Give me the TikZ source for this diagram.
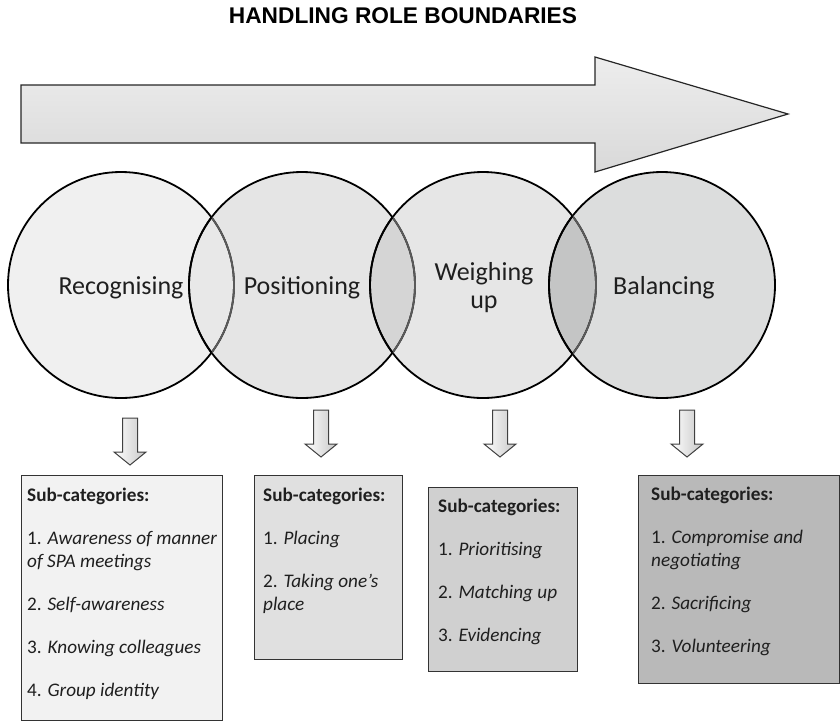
\documentclass[tikz,border=0pt]{standalone}
\usepackage{fontspec}
\setmainfont{Carlito}
\newfontfamily\headfont{Liberation Sans}
\usetikzlibrary{calc}

\definecolor{fillA}{HTML}{F0F0F0}
\definecolor{fillB}{HTML}{E5E5E5}
\definecolor{fillC}{HTML}{E6E6E6}
\definecolor{fillD}{HTML}{DCDDDD}
\definecolor{lensAB}{HTML}{E8E8E8}
\definecolor{lensBC}{HTML}{D5D5D5}
\definecolor{lensCD}{HTML}{C4C5C5}
\definecolor{boxA}{HTML}{F2F2F2}
\definecolor{boxB}{HTML}{E0E0E0}
\definecolor{boxC}{HTML}{D0D0D0}
\definecolor{boxD}{HTML}{B9B9B9}
\definecolor{inkgray}{HTML}{5A5A5A}

\begin{document}
\begin{tikzpicture}[x=1pt,y=-1pt,
  ringline/.style={line width=1.8pt,draw=black},
  stagenode/.style={circle,minimum size=226pt,inner sep=0pt,align=center,
    font=\fontsize{26}{30}\selectfont,text=black!88},
  catbox/.style={draw=black!80,line width=1.2pt,anchor=north west,inner sep=0pt},
  sublist/.style={anchor=north west,align=left,inner sep=0pt,text=black!88,
    font=\fontsize{19.2}{23}\selectfont},
  downarrow/.style={draw=black!75,line width=1pt,left color=white,right color=black!22},
  bigarrow/.style={draw=black!85,line width=1.2pt,top color=black!7,bottom color=black!15}
]
\useasboundingbox (0,0) rectangle (840,721);

% title
\node[font=\headfont\bfseries\fontsize{22.7}{25}\selectfont] (title) at (403,16) {HANDLING ROLE BOUNDARIES};

% progress arrow
\draw[bigarrow] (21,85) -- (595,85) -- (595,57) -- (788,114) -- (595,172)
  -- (595,143) -- (21,143) -- cycle;

% circle centres
\coordinate (p1) at (121,285);
\coordinate (p2) at (302,285);
\coordinate (p3) at (483,285);
\coordinate (p4) at (662,285);
\def\rr{113}

% circle fills
\fill[fillA] (p1) circle (\rr);
\fill[fillB] (p2) circle (\rr);
\fill[fillC] (p3) circle (\rr);
\fill[fillD] (p4) circle (\rr);

% overlap lenses
\begin{scope}\clip (p1) circle (\rr); \fill[lensAB] (p2) circle (\rr);\end{scope}
\begin{scope}\clip (p2) circle (\rr); \fill[lensBC] (p3) circle (\rr);\end{scope}
\begin{scope}\clip (p3) circle (\rr); \fill[lensCD] (p4) circle (\rr);\end{scope}

% outlines
\foreach \p in {p1,p2,p3,p4} \draw[ringline] (\p) circle (\rr);
\begin{scope}\clip (p2) circle (\rr); \draw[ringline,draw=inkgray] (p1) circle (\rr);\end{scope}
\begin{scope}\clip (p3) circle (\rr); \draw[ringline,draw=inkgray] (p2) circle (\rr);\end{scope}
\begin{scope}\clip (p4) circle (\rr); \draw[ringline,draw=inkgray] (p3) circle (\rr);\end{scope}
\begin{scope}\clip (p1) circle (\rr); \draw[ringline] (p2) circle (\rr);\end{scope}
\begin{scope}\clip (p2) circle (\rr); \draw[ringline] (p3) circle (\rr);\end{scope}
\begin{scope}\clip (p3) circle (\rr); \draw[ringline] (p4) circle (\rr);\end{scope}

% stage labels
\node[stagenode] (s1) at ($(p1)+(0,3)$) {Recognising};
\node[stagenode] (s2) at ($(p2)+(0,3)$) {Positioning};
\node[stagenode] (s3) at ($(p3)+(1,3)$) {Weighing\\[-2pt]up};
\node[stagenode] (s4) at ($(p4)+(2,3)$) {Balancing};

% small down arrows
\foreach \x/\t in {130/418, 321/410, 500/410, 687/410}{
  \draw[downarrow] (\x-7.5,\t) -- (\x+7.5,\t) -- (\x+7.5,\t+34) -- (\x+16,\t+34)
    -- (\x,\t+47) -- (\x-16,\t+34) -- (\x-7.5,\t+34) -- cycle;
}

% sub-category boxes
\node[catbox,fill=boxA,minimum width=201pt,minimum height=245pt] (b1) at (21,475) {};
\node[catbox,fill=boxB,minimum width=148pt,minimum height=184pt] (b2) at (254,475) {};
\node[catbox,fill=boxC,minimum width=149pt,minimum height=184pt] (b3) at (428,487) {};
\node[catbox,fill=boxD,minimum width=201pt,minimum height=208pt] (b4) at (638,475) {};

\node[sublist] (l1) at ($(b1.north west)+(6,13)$) {\textbf{Sub-categories:}\\[20pt]
  1. \textit{Awareness of manner}\\ \textit{of SPA meetings}\\[20pt]
  2. \textit{Self-awareness}\\[20pt]
  3. \textit{Knowing colleagues}\\[20pt]
  4. \textit{Group identity}};
\node[sublist] (l2) at ($(b2.north west)+(9,13)$) {\textbf{Sub-categories:}\\[20pt]
  1. \textit{Placing}\\[20pt]
  2. \textit{Taking one’s}\\ \textit{place}};
\node[sublist] (l3) at ($(b3.north west)+(10,12)$) {\textbf{Sub-categories:}\\[20pt]
  1. \textit{Prioritising}\\[20pt]
  2. \textit{Matching up}\\[20pt]
  3. \textit{Evidencing}};
\node[sublist] (l4) at ($(b4.north west)+(13,12)$) {\textbf{Sub-categories:}\\[20pt]
  1. \textit{Compromise and}\\ \textit{negotiating}\\[20pt]
  2. \textit{Sacrificing}\\[20pt]
  3. \textit{Volunteering}};
\end{tikzpicture}
\end{document}
